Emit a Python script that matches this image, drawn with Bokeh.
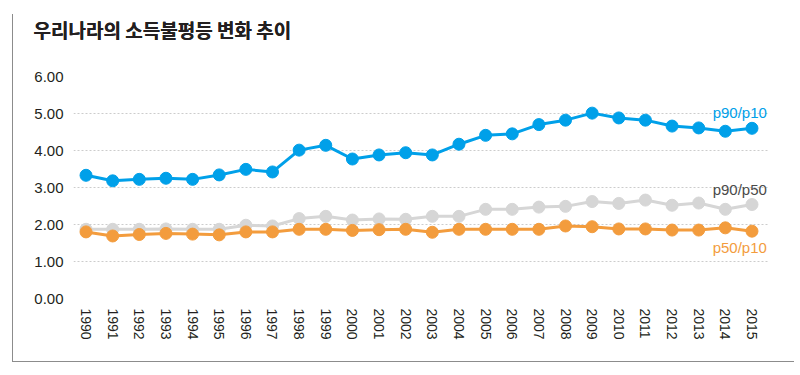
from bokeh.plotting import figure
from bokeh.models import Range1d, FixedTicker, Label, Title, CustomJSTickFormatter
from bokeh.embed import file_html
from bokeh.resources import INLINE

# ---- data ----
years = list(range(1990, 2016))
p90_p10 = [3.33, 3.18, 3.22, 3.25, 3.22, 3.34, 3.49, 3.42, 4.01, 4.14,
           3.77, 3.88, 3.94, 3.88, 4.17, 4.41, 4.45, 4.70, 4.82, 5.01,
           4.88, 4.82, 4.66, 4.61, 4.52, 4.60]
p90_p50 = [1.87, 1.87, 1.87, 1.88, 1.87, 1.87, 1.98, 1.96, 2.16, 2.22,
           2.12, 2.15, 2.14, 2.22, 2.22, 2.41, 2.41, 2.47, 2.49, 2.62,
           2.57, 2.66, 2.52, 2.58, 2.41, 2.54]
p50_p10 = [1.80, 1.69, 1.73, 1.76, 1.74, 1.72, 1.80, 1.80, 1.87, 1.87,
           1.84, 1.86, 1.87, 1.79, 1.87, 1.87, 1.87, 1.87, 1.96, 1.94,
           1.88, 1.88, 1.85, 1.85, 1.91, 1.82]
y_ticks = [0, 1, 2, 3, 4, 5, 6]
title_text = "우리나라의 소득불평등 변화 추이"
series_names = ["p90/p10", "p90/p50", "p50/p10"]

BLUE = "#00a0e9"
GRAY = "#d6d6d6"
ORANGE = "#f39c3d"
TEXT = "#231f20"
RULE = "#8c8c8c"

# canvas (inside the card's left/bottom rule)
TOP = 14
W, H = 782, 348
FL, FR, FT, FB = 60, 755, 62, 284
x0, x1 = 1989.53, 2015.62
y0, y1 = 0.0, 6.0

p = figure(width=W, height=H, output_backend="svg", toolbar_location=None,
           x_range=Range1d(x0, x1), y_range=Range1d(y0, y1),
           min_border_left=FL, min_border_right=W - FR,
           min_border_top=FT, min_border_bottom=H - FB,
           outline_line_color=None, background_fill_color="white",
           border_fill_color="white")
p.margin = (TOP, 0, 0, 12)
p.styles = {"border-left": f"1px solid {RULE}",
            "border-bottom": f"1px solid {RULE}"}

# title (placed at the very top; an empty spacer title keeps it off the frame)
p.title.text = title_text
p.title.text_font = "Noto Sans CJK KR"
p.title.text_font_size = "19px"
p.title.text_font_style = "bold"
p.title.text_color = TEXT
p.title.align = "left"
p.title.vertical_align = "top"
p.title.offset = -40
p.title.standoff = 0
spacer = Title(text=" ", text_font_size="2px", standoff=-1)
p.above = [spacer, p.title]

# axes
p.xaxis.ticker = FixedTicker(ticks=years)
p.xaxis.major_label_orientation = "vertical"
p.xaxis.axis_line_color = None
p.xaxis.major_tick_line_color = None
p.xaxis.minor_tick_line_color = None
p.xaxis.major_tick_out = 0
p.xaxis.major_tick_in = 0
p.xaxis.major_label_standoff = 10
p.xaxis.major_label_text_font = "Liberation Sans"
p.xaxis.major_label_text_font_size = "14px"
p.xaxis.major_label_text_color = TEXT

p.yaxis.ticker = FixedTicker(ticks=y_ticks)
p.yaxis.formatter = CustomJSTickFormatter(code="return tick.toFixed(2);")
p.yaxis.axis_line_color = None
p.yaxis.major_tick_line_color = None
p.yaxis.minor_tick_line_color = None
p.yaxis.major_tick_out = 0
p.yaxis.major_tick_in = 0
p.yaxis.major_label_standoff = 10
p.yaxis.major_label_text_font = "Liberation Sans"
p.yaxis.major_label_text_font_size = "15px"
p.yaxis.major_label_text_color = TEXT

p.xgrid.grid_line_color = None
p.ygrid.grid_line_color = "#cccccc"
p.ygrid.grid_line_dash = "2 2"
p.ygrid.grid_line_width = 1

# series
for ys, col in [(p90_p50, GRAY), (p50_p10, ORANGE), (p90_p10, BLUE)]:
    p.line(years, ys, line_color=col, line_width=3)
    p.scatter(years, ys, size=12, fill_color=col, line_color=col)

# series labels
for name, yv, col in [(series_names[0], 5.04, BLUE),
                      (series_names[1], 2.95, "#4a4a4a"),
                      (series_names[2], 1.39, ORANGE)]:
    p.add_layout(Label(x=2015.56, y=yv, text=name, text_align="right",
                       text_baseline="middle", text_color=col,
                       text_font="Liberation Sans", text_font_size="15px"))

open("out.html", "w").write(file_html(p, INLINE))
